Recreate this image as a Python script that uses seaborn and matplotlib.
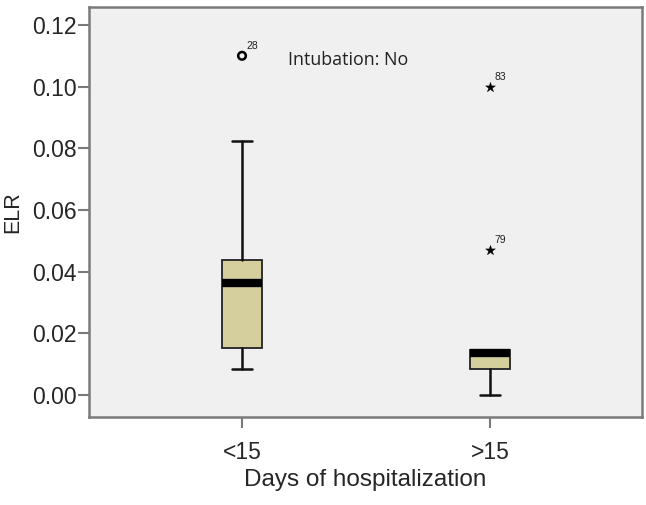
import matplotlib
matplotlib.use("Agg")

import matplotlib.pyplot as plt
import seaborn as sns


# =====================================
# DATA
# =====================================

groups = ["<15", ">15"]

q1 = [0.0152, 0.0084]
median = [0.0362, 0.0136]
q3 = [0.0437, 0.0146]
whisker_low = [0.0084, 0.0]
whisker_high = [0.0825, 0.0146]

outlier_group = ["<15", ">15", ">15"]
outlier_value = [0.110, 0.100, 0.047]
outlier_case = ["28", "83", "79"]
outlier_kind = ["outlier", "extreme", "extreme"]

y_ticks = [0.00, 0.02, 0.04, 0.06, 0.08, 0.10, 0.12]


# =====================================
# STYLE
# =====================================

sns.set_theme(style="white")

plt.rcParams["font.family"] = ["Liberation Sans", "DejaVu Sans"]

box_color = "#d4cf9c"
panel_color = "#f0f0f0"
frame_color = "#7a7a7a"


# =====================================
# FIGURE
# =====================================

fig = plt.figure(figsize=(6.46, 5.05), dpi=100)

ax = fig.add_axes([0.1378, 0.1743, 0.856, 0.8117])

ax.set_facecolor(panel_color)

positions = list(range(len(groups)))

stats = [
    {
        "q1": q1[i],
        "med": median[i],
        "q3": q3[i],
        "whislo": whisker_low[i],
        "whishi": whisker_high[i],
        "fliers": [],
        "label": groups[i],
    }
    for i in positions
]

ax.bxp(
    stats,
    positions=positions,
    widths=0.161,
    capwidths=0.077,
    patch_artist=True,
    showfliers=False,
    boxprops=dict(facecolor=box_color, edgecolor="#222222", linewidth=1.3),
    medianprops=dict(color="black", linewidth=6, solid_capstyle="butt"),
    whiskerprops=dict(color="#111111", linewidth=1.8),
    capprops=dict(color="#111111", linewidth=1.8),
)


# =====================================
# OUTLIERS
# =====================================

pos_of = {g: i for i, g in enumerate(groups)}

out_x = [pos_of[g] for g in outlier_group]

circ_x = [x for x, k in zip(out_x, outlier_kind) if k == "outlier"]
circ_y = [v for v, k in zip(outlier_value, outlier_kind) if k == "outlier"]

star_x = [x for x, k in zip(out_x, outlier_kind) if k == "extreme"]
star_y = [v for v, k in zip(outlier_value, outlier_kind) if k == "extreme"]

sns.scatterplot(
    x=circ_x,
    y=circ_y,
    marker="o",
    s=30,
    facecolor="none",
    edgecolor="black",
    linewidth=1.8,
    ax=ax,
    zorder=5,
)

sns.scatterplot(
    x=star_x,
    y=star_y,
    marker="*",
    s=55,
    color="black",
    edgecolor="black",
    linewidth=0.3,
    ax=ax,
    zorder=5,
)

for x, v, case in zip(out_x, outlier_value, outlier_case):

    ax.annotate(
        case,
        xy=(x, v),
        xytext=(3, 5),
        textcoords="offset points",
        fontsize=7.5,
        color="#222222",
    )

ax.text(
    0.185,
    0.1087,
    "Intubation: No",
    fontsize=12.9,
    family=["Open Sans", "DejaVu Sans"],
    color="#222222",
    va="center",
)


# =====================================
# AXES
# =====================================

ax.set_xlim(-0.617, 1.613)
ax.set_ylim(-0.0071, 0.1258)

ax.set_xticks(positions)
ax.set_xticklabels(groups, fontsize=16.5)

ax.set_yticks(y_ticks)
ax.set_yticklabels([f"{t:.2f}" for t in y_ticks], fontsize=16.5)

ax.tick_params(
    axis="both",
    which="major",
    length=8,
    width=1.5,
    color=frame_color,
    left=True,
    bottom=True,
)

ax.tick_params(axis="y", pad=1)
ax.tick_params(axis="x", pad=9)

for spine in ax.spines.values():
    spine.set_color(frame_color)
    spine.set_linewidth(1.8)
    spine.set_visible(True)

ax.set_xlabel("Days of hospitalization", fontsize=17.5, labelpad=4)
ax.set_ylabel("ELR", fontsize=15.5, labelpad=6)

plt.savefig("out.png", dpi=100)

plt.close()
